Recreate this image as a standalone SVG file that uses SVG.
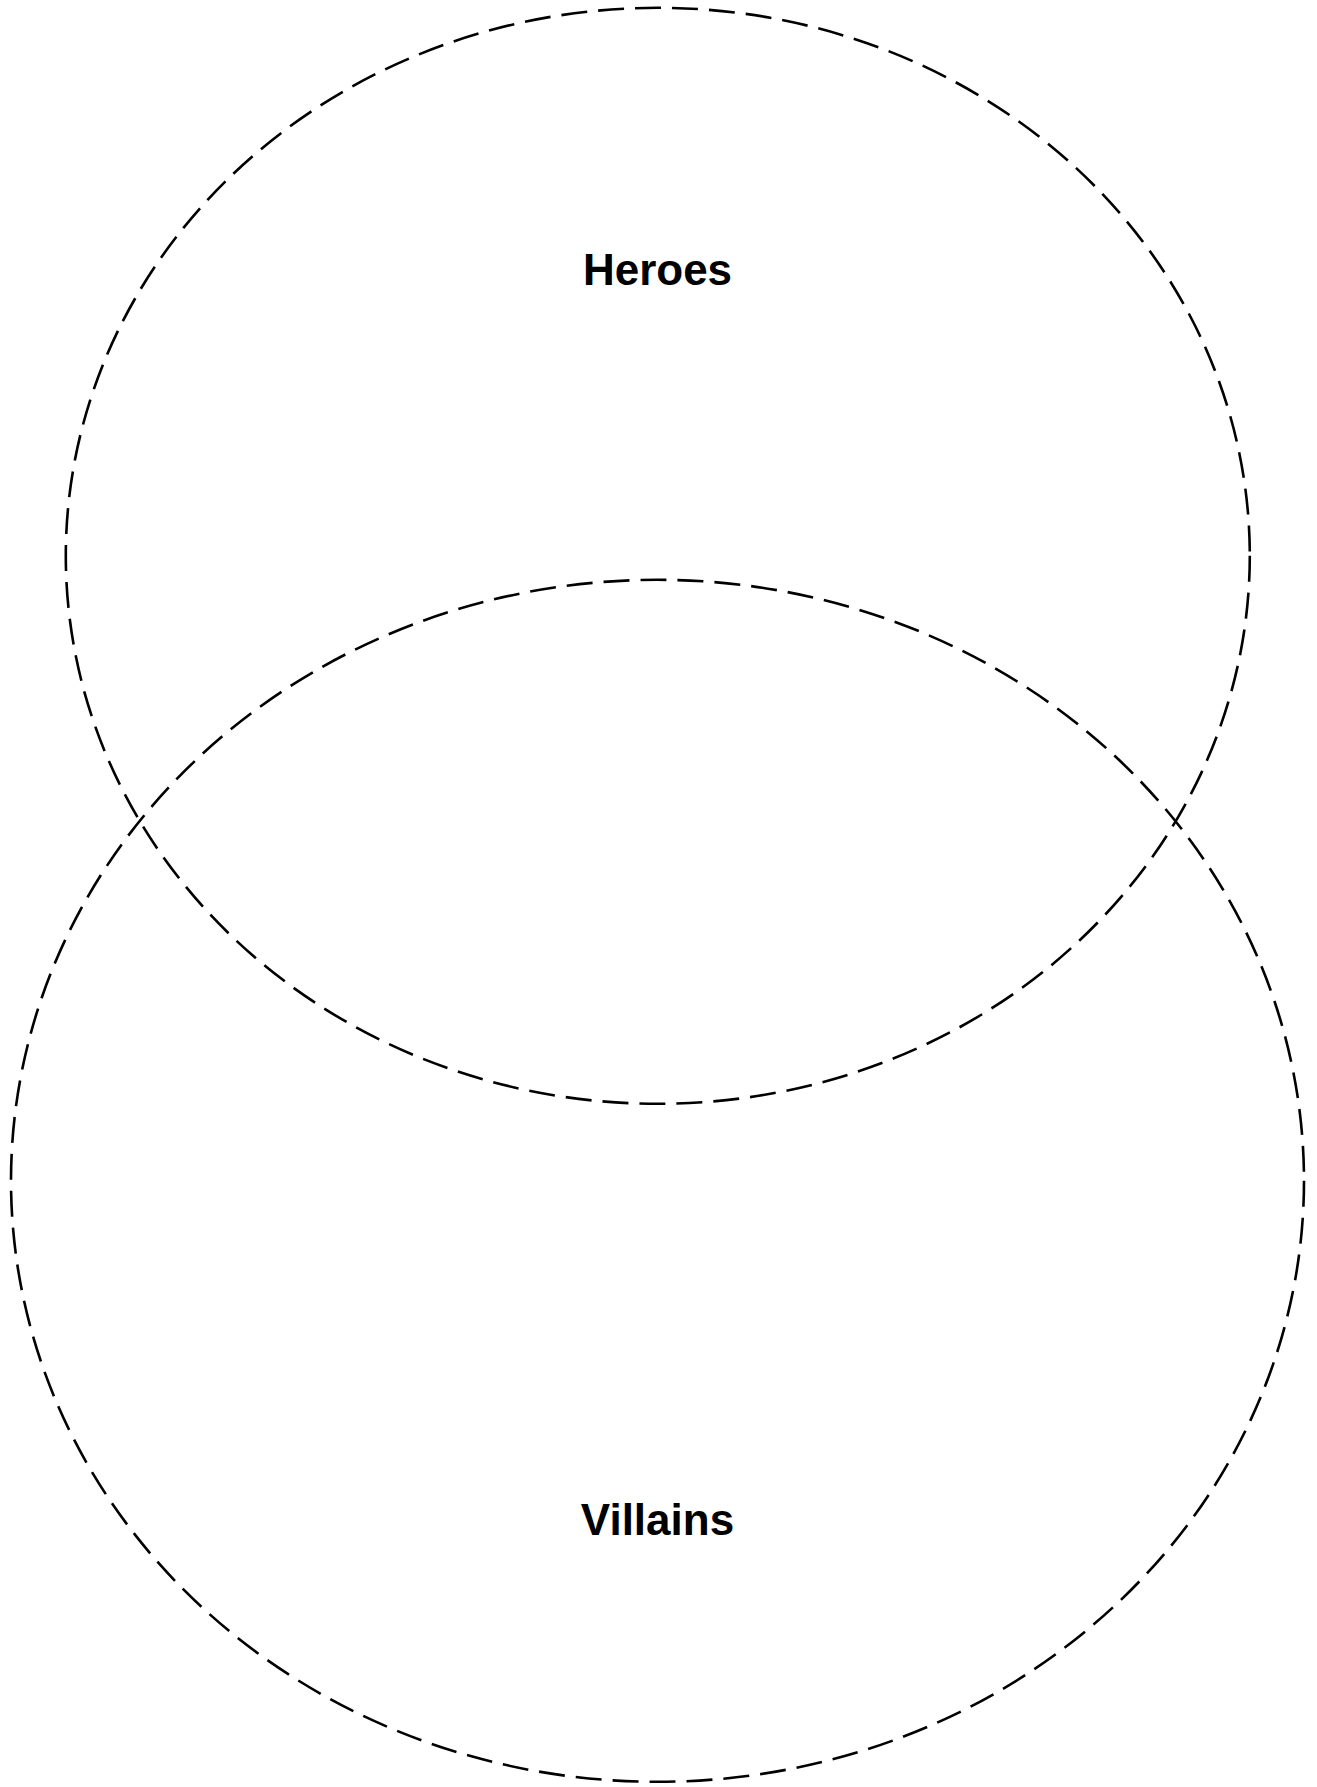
<svg xmlns="http://www.w3.org/2000/svg" width="1317" height="1787" viewBox="0 0 1317 1787">
<style>
.ring{fill:none;stroke:#000;stroke-width:2.6;stroke-dasharray:26 11}
.lbl{font-family:"Liberation Sans",Arial,sans-serif;font-weight:bold;font-size:44px;fill:#000;text-anchor:middle}
</style>
<rect width="1317" height="1787" fill="#fff"/>
<g id="heroes">
<ellipse class="ring" cx="657.8" cy="555.8" rx="592" ry="548"/>
<text class="lbl" x="657.5" y="285">Heroes</text>
</g>
<g id="villains">
<ellipse class="ring" cx="657.5" cy="1180.8" rx="646.5" ry="601"/>
<text class="lbl" x="657.5" y="1535">Villains</text>
</g>
<g id="connectors"/>
</svg>
